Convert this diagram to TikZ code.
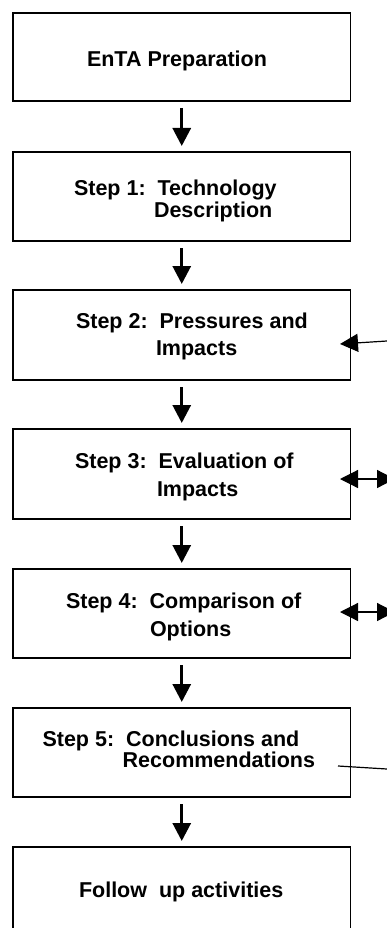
\documentclass[tikz,border=0pt]{standalone}
\usepackage{fontspec}
\setmainfont{Liberation Sans}
\usetikzlibrary{arrows.meta}
\begin{document}
\begin{tikzpicture}[x=1pt,y=-1pt,
  box/.style={draw=black,line width=1.3pt,anchor=north west,minimum width=337.5pt,inner sep=0pt,outer sep=0pt},
  lbl/.style={anchor=base west,inner sep=0pt,outer sep=0pt,font=\fontsize{21.5}{26}\selectfont\bfseries},
  flow/.style={line width=3pt,-{Triangle[length=18pt,width=18pt]}},
  side/.style={line width=1.2pt},
  tipa/.tip={Triangle[length=18pt,width=18pt]}]
\useasboundingbox (0,0) rectangle (387,928);
\clip (0,0) rectangle (387,928);
% boxes
\node[box,minimum height=88pt] (b0) at (13,13) {};
\node[box,minimum height=89pt] (b1) at (13,152) {};
\node[box,minimum height=90pt] (b2) at (13,290) {};
\node[box,minimum height=90pt] (b3) at (13,429) {};
\node[box,minimum height=89pt] (b4) at (13,569) {};
\node[box,minimum height=89pt] (b5) at (13,708) {};
\node[box,minimum height=90pt] (b6) at (13,847) {};
% texts
\node[lbl] (t0) at (87,67) {EnTA Preparation};
\node[lbl] (t1a) at (74,196) {Step 1:\ \ Technology};
\node[lbl] (t1b) at (154,217.5) {Description};
\node[lbl] (t2a) at (76,328) {Step 2:\ \ Pressures and};
\node[lbl] (t2b) at (156,355.5) {Impacts};
\node[lbl] (t3a) at (75,468) {Step 3:\ \ Evaluation of};
\node[lbl] (t3b) at (157,496) {Impacts};
\node[lbl] (t4a) at (66,608) {Step 4:\ \ Comparison of};
\node[lbl] (t4b) at (150,636) {Options};
\node[lbl] (t5a) at (42.5,746) {Step 5:\ \ Conclusions and};
\node[lbl] (t5b) at (122.7,767.7) {Recommendations};
\node[lbl] (t6) at (79,897) {Follow\ \ up activities};
% flow arrows
\draw[flow] ([yshift=-7pt]b0.south) -- ([yshift=6pt]b1.north);
\draw[flow] ([yshift=-7pt]b1.south) -- ([yshift=6pt]b2.north);
\draw[flow] ([yshift=-7pt]b2.south) -- ([yshift=6pt]b3.north);
\draw[flow] ([yshift=-7pt]b3.south) -- ([yshift=6pt]b4.north);
\draw[flow] ([yshift=-7pt]b4.south) -- ([yshift=6pt]b5.north);
\draw[flow] ([yshift=-7pt]b5.south) -- ([yshift=6pt]b6.north);
% side connectors
\coordinate (e2) at (387,341);
\coordinate (p2) at (340,344);
\draw[side,-tipa] (e2) -- (p2);
\coordinate (p3) at (340,479);
\coordinate (e3) at (395,479);
\draw[side,tipa-tipa] (p3) -- (e3);
\coordinate (p4) at (340,612);
\coordinate (e4) at (395,612);
\draw[side,tipa-tipa] (p4) -- (e4);
\coordinate (p5) at (338,766);
\coordinate (e5) at (387,769);
\draw[side] (p5) -- (e5);
\end{tikzpicture}
\end{document}
